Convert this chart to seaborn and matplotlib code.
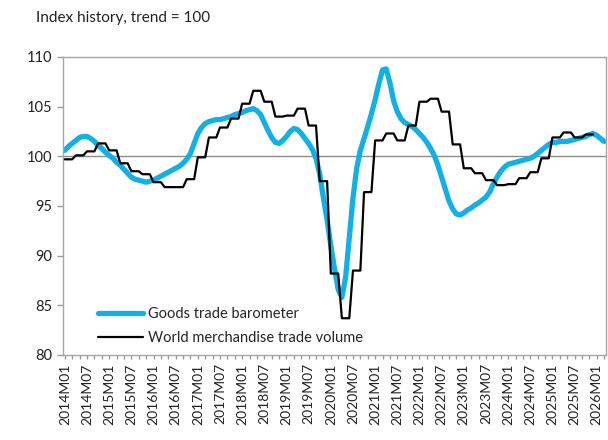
import numpy as np
import pandas as pd
import matplotlib
matplotlib.use("Agg")
import matplotlib.pyplot as plt
import seaborn as sns

# monthly labels 2014M01 .. 2026M03
months = [f"{y}M{m:02d}" for y in range(2014, 2027) for m in range(1, 13)][:147]

# goods trade barometer (monthly)
barometer = [
    100.6, 101.0, 101.3, 101.6, 101.9, 102.0, 102.0, 101.8, 101.5, 101.1, 100.8, 100.4,
    100.1, 99.8, 99.4, 99.1, 98.7, 98.3, 97.9, 97.7, 97.6, 97.5, 97.4, 97.5,
    97.6, 97.8, 98.0, 98.2, 98.4, 98.6, 98.8, 99.0, 99.3, 99.7, 100.3, 101.3,
    102.3, 102.9, 103.3, 103.5, 103.6, 103.7, 103.7, 103.8, 103.9, 104.0, 104.2, 104.3,
    104.4, 104.6, 104.7, 104.8, 104.6, 104.2, 103.4, 102.6, 101.9, 101.4, 101.3, 101.6,
    102.0, 102.5, 102.8, 102.7, 102.3, 101.8, 101.3, 100.7, 99.8, 98.2, 95.8, 93.6,
    91.0, 88.7, 86.6, 85.8, 87.8, 91.8, 95.8, 98.8, 100.6, 101.8, 103.0, 104.3,
    105.7, 107.3, 108.7, 108.8, 107.4, 105.6, 104.5, 103.8, 103.4, 103.2, 103.0, 102.7,
    102.3, 101.9, 101.4, 100.8, 100.1, 99.1, 97.9, 96.7, 95.5, 94.7, 94.2, 94.1,
    94.3, 94.6, 94.8, 95.1, 95.3, 95.6, 95.9, 96.4, 97.2, 97.9, 98.5, 98.9,
    99.2, 99.3, 99.4, 99.5, 99.6, 99.7, 99.8, 100.0, 100.3, 100.6, 100.9, 101.2,
    101.4, 101.4, 101.5, 101.5, 101.5, 101.6, 101.7, 101.8, 101.9, 102.0, 102.2, 102.3,
    102.1, 101.8, 101.5,
]

# world merchandise trade volume (quarterly, 2014Q1 .. 2025Q4)
volume_q = [
    99.7, 100.1, 100.5, 101.3, 100.6, 99.3, 98.5, 98.2,
    97.4, 96.9, 96.9, 97.7, 99.9, 101.9, 102.9, 103.8,
    105.3, 106.6, 105.5, 104.0, 104.1, 104.8, 103.1, 97.5,
    88.2, 83.7, 88.5, 96.4, 101.6, 102.3, 101.6, 103.1,
    105.5, 105.8, 104.5, 101.2, 98.8, 98.3, 97.6, 97.1,
    97.2, 97.8, 98.4, 99.8, 101.9, 102.4, 101.9, 102.2,
]

volume = list(np.repeat(volume_q, 3)) + [np.nan] * (len(months) - 3 * len(volume_q))

df = pd.DataFrame({"i": range(len(months)), "month": months,
                   "barometer": barometer, "volume": volume})

sns.set_style("white")
plt.rcParams["font.family"] = ["Lato", "DejaVu Sans"]

fig = plt.figure(figsize=(6.08, 4.40), dpi=100)
ax = fig.add_axes([63 / 608, 1 - 355 / 440, 543 / 608, 298 / 440])

ax.axhline(100, color="#8c8c8c", lw=1.0, zorder=1)
sns.lineplot(data=df, x="i", y="barometer", ax=ax, color="#13b0e6", lw=3.8,
             label="Goods trade barometer", zorder=2)
sns.lineplot(data=df, x="i", y="volume", ax=ax, color="black", lw=1.6,
             label="World merchandise trade volume", zorder=3)

ax.set_xlim(-0.5, len(months) - 0.5)
ax.set_ylim(80, 110)
ax.set_yticks(range(80, 111, 5))
ax.set_xticks(range(0, len(months), 6))
ax.set_xticklabels(months[::6], rotation=90, fontsize=10, color="#222222")
ax.set_xticks(range(0, len(months), 2), minor=True)
ax.tick_params(axis="y", labelsize=10.5, colors="#222222", length=4, width=1,
               color="#9a9a9a", left=True, pad=4)
ax.tick_params(axis="x", which="both", length=3, width=1, color="#9a9a9a",
               bottom=True, pad=3)
ax.set_xlabel("")
ax.set_ylabel("")
for s in ax.spines.values():
    s.set_color("#a6a6a6")
    s.set_linewidth(1.0)

ax.legend(loc="lower left", bbox_to_anchor=(0.04, -0.012), frameon=False,
          fontsize=10.5, handlelength=3.1, handletextpad=0.35, labelspacing=0.7)

fig.text(36 / 608, 1 - 18 / 440, "Index history, trend = 100", fontsize=11,
         va="center", ha="left", color="#222222")

fig.savefig("out.png", dpi=100)
